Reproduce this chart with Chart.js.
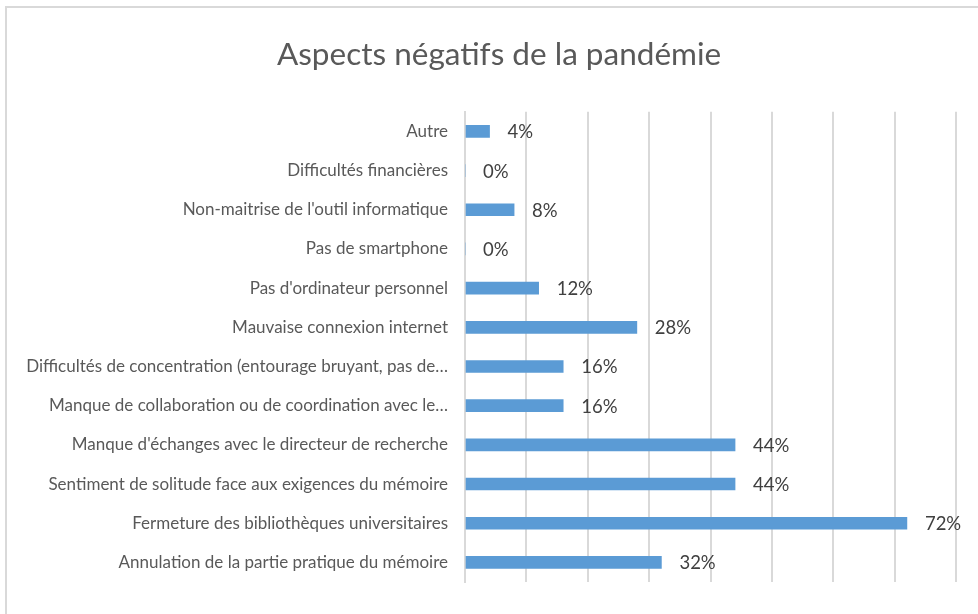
<!DOCTYPE html>
<html>
<head>
<meta charset="utf-8">
<script src="https://cdn.jsdelivr.net/npm/chart.js@4.4.1/dist/chart.umd.min.js"></script>
<style>
html,body{margin:0;padding:0;background:#fff;}
#wrap{width:978px;height:614px;position:relative;}
</style>
</head>
<body>
<div id="wrap"><canvas id="c" width="978" height="614"></canvas></div>
<script>
const chartTitle = "Aspects négatifs de la pandémie";
const categories = [
  "Autre",
  "Difficultés financières",
  "Non-maitrise de l'outil informatique",
  "Pas de smartphone",
  "Pas d'ordinateur personnel",
  "Mauvaise connexion internet",
  "Difficultés de concentration (entourage bruyant, pas de…",
  "Manque de collaboration ou de coordination avec le…",
  "Manque d'échanges avec le directeur de recherche",
  "Sentiment de solitude face aux exigences du mémoire",
  "Fermeture des bibliothèques universitaires",
  "Annulation de la partie pratique du mémoire"
];
const percentValues = [4, 0, 8, 0, 12, 28, 16, 16, 44, 44, 72, 32];
const axisMin = 0;
const axisMax = 80;
const axisStep = 10;

const FONT = "Lato";

const framePlugin = {
  id: 'frame',
  afterLayout(chart) {
    if (chart.titleBlock) {
      chart.titleBlock.left += 12;
      chart.titleBlock.right += 12;
    }
  },
  beforeDraw(chart) {
    const ctx = chart.ctx;
    ctx.save();
    ctx.fillStyle = '#ffffff';
    ctx.fillRect(0, 0, chart.width, chart.height);
    ctx.strokeStyle = '#d9d9d9';
    ctx.lineWidth = 2;
    ctx.strokeRect(6, 7, chart.width + 20, chart.height + 20);
    ctx.restore();
  }
};

const labelPlugin = {
  id: 'barLabels',
  afterDatasetsDraw(chart) {
    const ctx = chart.ctx;
    const meta = chart.getDatasetMeta(0);
    ctx.save();
    ctx.font = '18.5px ' + FONT;
    ctx.fillStyle = '#404040';
    ctx.textAlign = 'left';
    ctx.textBaseline = 'middle';
    meta.data.forEach((bar, i) => {
      const v = chart.data.datasets[0].data[i];
      ctx.fillText(v + '%', bar.x + 18, bar.y + 1);
    });
    ctx.restore();
  }
};

const LEFT_PAD = 18;

function draw() {
  new Chart(document.getElementById('c'), {
    type: 'bar',
    data: {
      labels: categories,
      datasets: [{
        data: percentValues,
        backgroundColor: '#5b9bd5',
        borderWidth: 0,
        barThickness: 12
      }]
    },
    options: {
      indexAxis: 'y',
      responsive: false,
      animation: false,
      devicePixelRatio: 1,
      layout: { padding: { left: LEFT_PAD, right: 22, top: 0, bottom: 0 } },
      plugins: {
        legend: { display: false },
        tooltip: { enabled: false },
        title: {
          display: true,
          text: chartTitle,
          color: '#595959',
          font: { family: FONT, size: 31.5, weight: 'normal', lineHeight: 1.2 },
          padding: { top: 36, bottom: 38 }
        }
      },
      scales: {
        x: {
          type: 'linear',
          min: axisMin,
          max: axisMax,
          ticks: { display: false, stepSize: axisStep },
          grid: { color: '#d9d9d9', lineWidth: 2, drawTicks: false },
          border: { display: false },
          afterFit(scale) { scale.height = 32; }
        },
        y: {
          grid: { display: false, drawTicks: false },
          border: { display: true, color: '#d9d9d9', width: 2 },
          ticks: {
            color: '#595959',
            font: { family: FONT, size: 17 },
            padding: 17,
            autoSkip: false
          },
          afterFit(scale) { scale.width = 465 - LEFT_PAD; }
        }
      }
    },
    plugins: [framePlugin, labelPlugin]
  });
}

if (document.fonts && document.fonts.load) {
  Promise.all([document.fonts.load('17px Lato'), document.fonts.load('31.5px Lato')]).then(draw, draw);
} else {
  draw();
}
</script>
</body>
</html>
